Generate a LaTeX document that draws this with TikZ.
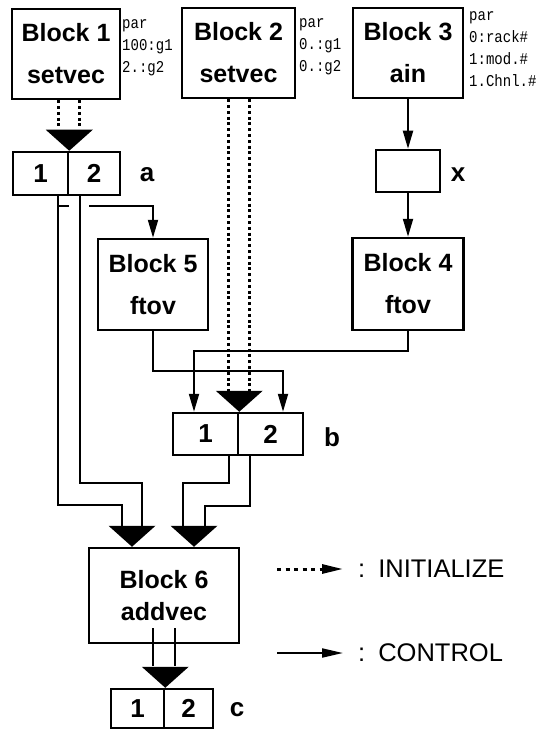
\documentclass[tikz,border=0pt]{standalone}
\usepackage{fontspec}
\setmainfont{Liberation Sans}
\setmonofont{Liberation Mono}
\newfontfamily\parfont{Liberation Mono}[FakeStretch=0.85]
\usetikzlibrary{calc,arrows.meta}

% big black head where two lines join into one vector
\newcommand{\mergehead}[1]{\fill (#1) -- ++(-23.5,-21) -- ++(47,0) -- cycle;}

\begin{document}
\begin{tikzpicture}[x=1pt, y=-1pt,
    blk/.style={draw, line width=2.5pt, align=center, inner sep=0pt,
        font=\fontsize{25}{42}\selectfont\bfseries},
    cell/.style={draw, line width=2.5pt, inner sep=0pt, minimum height=42pt,
        font=\fontsize{26}{30}\selectfont\bfseries},
    tag/.style={inner sep=0pt, font=\fontsize{26}{30}\selectfont\bfseries},
    parlist/.style={anchor=west, align=left, inner sep=0pt,
        font=\fontsize{16.5}{22}\parfont},
    legtext/.style={anchor=west, inner sep=0pt, font=\fontsize{25.5}{30}\selectfont},
    wire/.style={line width=2pt},
    ctrl/.style={wire, -{Triangle[length=18pt,width=10pt]}},
    init/.style={line width=3.5pt, dash pattern=on 3pt off 2.8pt},
    initkey/.style={line width=3pt, dash pattern=on 4pt off 4.5pt,
        -{Triangle[length=21pt,width=9pt]}},
    ctrlkey/.style={wire, -{Triangle[length=21pt,width=9pt]}}]
    \useasboundingbox (0,0) rectangle (554,730);

    % Blocks
    \node[blk, minimum width=108pt, minimum height=90pt] (blk1) at (66,54) {Block 1\\setvec};
    \node[blk, minimum width=113pt, minimum height=90pt] (blk2) at (238.5,53) {Block 2\\setvec};
    \node[blk, minimum width=110pt, minimum height=90pt] (blk3) at (408,53) {Block 3\\ain};
    \node[blk, minimum width=111pt, minimum height=92pt] (blk4) at (408,284) {Block 4\\ftov};
    \node[blk, minimum width=110pt, minimum height=91pt] (blk5) at (153,284.5) {Block 5\\ftov};
    \node[blk, minimum width=150pt, minimum height=95pt,
        font=\fontsize{25}{32}\selectfont\bfseries] (blk6) at (164,595.5) {Block 6\\addvec};
    \node[draw, line width=2.5pt, minimum width=64pt, minimum height=42pt] (xbox) at (408,171) {};

    % Parameters
    \node[parlist] (par1) at (122,48) {par\\100:g1\\2.:g2};
    \node[parlist] (par2) at (299,47) {par\\0.:g1\\0.:g2};
    \node[parlist] (par3) at (469,49) {par\\0:rack\#\\1:mod.\#\\1.Chnl.\#};

    % Vectors
    \node[cell, minimum width=55pt, minimum height=43pt] (a1) at (40.5,173.5) {1};
    \node[cell, minimum width=52pt, minimum height=43pt] (a2) at (94,173.5) {2};
    \node[cell, minimum width=65pt] (b1) at (205.5,434) {1};
    \node[cell, minimum width=65pt] (b2) at (270.5,434) {2};
    \node[cell, minimum width=53pt, minimum height=39pt] (c1) at (137.5,708.5) {1};
    \node[cell, minimum width=49pt, minimum height=39pt] (c2) at (188.5,708.5) {2};
    \node[tag] (taga) at (147,175) {a};
    \node[tag] (tagb) at (332,437) {b};
    \node[tag] (tagc) at (237,710) {c};
    \node[tag] (tagx) at (458,175) {x};

    % Initialize lines
    \foreach \dx in {-11,10}
        \draw[init] ($(blk1.south -| a1.north east)+(\dx,0)$) -- ($(a1.north east)+(\dx,-22)$);
    \mergehead{a1.north east}
    \foreach \dx in {-11,10}
        \draw[init] ($(blk2.south -| b1.north east)+(\dx,0)$) -- ($(b1.north east)+(\dx,-21)$);
    \mergehead{b1.north east}

    % Control lines
    \draw[ctrl] (blk3.south) -- (xbox.north);
    \draw[ctrl] (xbox.south) -- (blk4.north);
    \draw[ctrl] (blk4.south) -- ++(0,20) -| ([xshift=-11.5pt]b1.north);
    \draw[ctrl] (blk5.south) -- ++(0,40) -| ([xshift=12.5pt]b2.north);
    \draw[wire] ($(a1.south east)+(-11,10)$) -- ++(11,0);
    \draw[ctrl] ($(a1.south east)+(20,10)$) -| (blk5.north);

    % Into Block 6
    \draw[wire] ($(a1.south east)+(-11,0)$) |- ($(blk6.north)+(-42,-42)$) -- ($(blk6.north)+(-42,-21)$);
    \draw[wire] ($(a1.south east)+(11,0)$) |- ($(blk6.north)+(-22,-64)$) -- ($(blk6.north)+(-22,-21)$);
    \mergehead{[xshift=-32pt]blk6.north}
    \draw[wire] ($(b1.south east)+(-10,0)$) |- ($(blk6.north)+(19,-64)$) -- ($(blk6.north)+(19,-21)$);
    \draw[wire] ($(b1.south east)+(11,0)$) |- ($(blk6.north)+(41,-41)$) -- ($(blk6.north)+(41,-21)$);
    \mergehead{[xshift=30pt]blk6.north}

    % Out of Block 6
    \foreach \dx in {-12,10}
        \draw[wire] ($(blk6.south -| c1.north east)+(\dx,-16)$) -- ($(c1.north east)+(\dx,-22)$);
    \mergehead{c1.north east}

    % Legend
    \node[legtext] (initlbl) at (358,569) {:\hspace{13pt}INITIALIZE};
    \node[legtext] (ctrllbl) at (358,653) {:\hspace{13pt}CONTROL};
    \coordinate (initstart) at (277,569);
    \coordinate (ctrlstart) at (277,653);
    \draw[initkey] (initstart) -- ([xshift=-15pt]initlbl.west);
    \draw[ctrlkey] (ctrlstart) -- ([xshift=-15pt]ctrllbl.west);
\end{tikzpicture}
\end{document}
